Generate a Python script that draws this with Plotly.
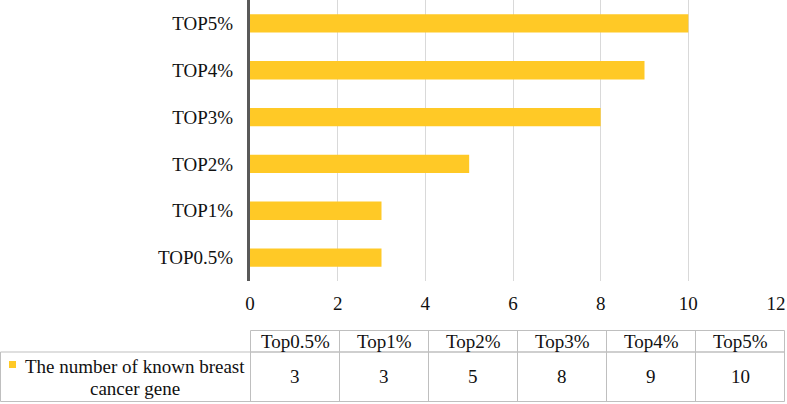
import plotly.graph_objects as go

categories = ["TOP0.5%", "TOP1%", "TOP2%", "TOP3%", "TOP4%", "TOP5%"]
table_headers = ["Top0.5%", "Top1%", "Top2%", "Top3%", "Top4%", "Top5%"]
values = [3, 3, 5, 8, 9, 10]
series_label_lines = ["The number of known breast", "cancer gene"]
x_ticks = [0, 2, 4, 6, 8, 10, 12]

W, H = 787, 404
BAR = "#FFC926"
FONT = "Liberation Serif"
TXT = "#111111"
GRID = "#d9d9d9"
BORDER = "#bfbfbf"

# table geometry (pixels)
T_LEFT = 0.5
T_COL0 = 250.5
T_COLW = 89.0
T_TOP = 330.5
T_MID = 352.0
T_BOT = 401.5


def px(x):
    return x / W


def py(y):
    return 1 - y / H


fig = go.Figure()
fig.add_trace(go.Bar(
    y=categories, x=values, orientation="h",
    marker=dict(color=BAR, line=dict(width=0)),
    showlegend=False, hoverinfo="skip",
))

ncol = len(table_headers)
T_RIGHT = T_COL0 + T_COLW * ncol
line = dict(color=BORDER, width=1)
# header row box
fig.add_shape(type="rect", xref="paper", yref="paper",
              x0=px(T_COL0), x1=px(T_RIGHT), y0=py(T_MID), y1=py(T_TOP), line=line)
# data row box
fig.add_shape(type="rect", xref="paper", yref="paper",
              x0=px(T_LEFT), x1=px(T_RIGHT), y0=py(T_BOT), y1=py(T_MID), line=line)
# column separators
for k in range(1, ncol):
    xk = T_COL0 + T_COLW * k
    fig.add_shape(type="line", xref="paper", yref="paper",
                  x0=px(xk), x1=px(xk), y0=py(T_BOT), y1=py(T_TOP), line=line)
fig.add_shape(type="line", xref="paper", yref="paper",
              x0=px(T_COL0), x1=px(T_COL0), y0=py(T_BOT), y1=py(T_MID), line=line)

cell_font = dict(family=FONT, size=19, color=TXT)
for i, (h, v) in enumerate(zip(table_headers, values)):
    cx = T_COL0 + T_COLW * (i + 0.5)
    fig.add_annotation(x=px(cx), y=py((T_TOP + T_MID) / 2 + 0.5), xref="paper", yref="paper",
                       text=h, showarrow=False, font=cell_font,
                       xanchor="center", yanchor="middle")
    fig.add_annotation(x=px(cx), y=py((T_MID + T_BOT) / 2), xref="paper", yref="paper",
                       text=str(v), showarrow=False, font=cell_font,
                       xanchor="center", yanchor="middle")

# series label with legend marker
for j, (txt, yc) in enumerate(zip(series_label_lines, [366.5, 388.0])):
    fig.add_annotation(x=px(134.5), y=py(yc), xref="paper", yref="paper",
                       text=txt, showarrow=False, font=cell_font,
                       xanchor="center", yanchor="middle")
fig.add_shape(type="rect", xref="paper", yref="paper",
              x0=px(9), x1=px(16), y0=py(368), y1=py(361),
              fillcolor=BAR, line=dict(width=0))

fig.update_layout(
    template="none",
    width=W, height=H,
    margin=dict(l=0, r=0, t=0, b=0, pad=0),
    paper_bgcolor="white", plot_bgcolor="white",
    bargap=0.61,
    font=dict(family=FONT, size=19, color=TXT),
    showlegend=False,
    xaxis=dict(
        domain=[px(250), px(776)], range=[0, 12], automargin=False,
        tickvals=x_ticks, showgrid=True, gridcolor=GRID, gridwidth=1,
        zeroline=False, showline=False, ticks="", ticklabelstandoff=9,
        tickfont=dict(family=FONT, size=19, color=TXT),
    ),
    yaxis=dict(
        domain=[py(281), 1], range=[-0.5, 5.5], automargin=False,
        categoryorder="array", categoryarray=categories,
        showgrid=False, zeroline=False, showline=True,
        linecolor="#595959", linewidth=3, ticks="", ticklabelstandoff=10,
        tickfont=dict(family=FONT, size=19, color=TXT),
    ),
)

fig.write_html(
    "out.html",
    config={"displayModeBar": False},
    post_script="document.body.style.margin='0';document.body.style.overflow='hidden';",
)
